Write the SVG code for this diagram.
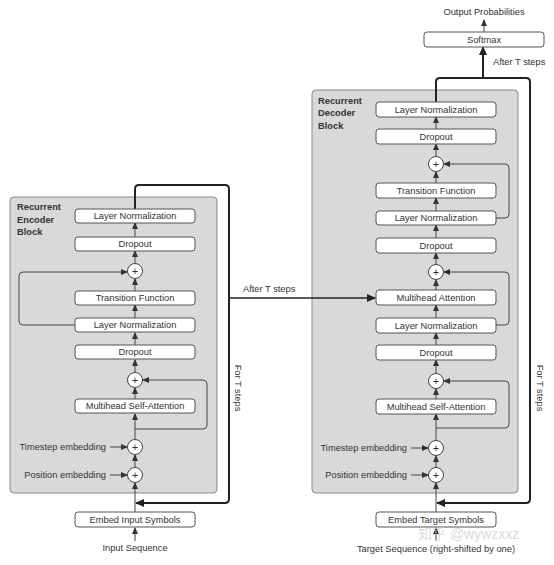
<svg xmlns="http://www.w3.org/2000/svg" width="554" height="565" viewBox="0 0 554 565">
<style>
text{font-family:"Liberation Sans",Arial,sans-serif;fill:#333;}
.lbl{font-size:9.3px;text-anchor:middle;dominant-baseline:central;}
.side{font-size:9.3px;}
.title{font-size:9.3px;font-weight:bold;fill:#333;}
.box{fill:#fff;stroke:#555;stroke-width:1;}
.blk{fill:#d9d9d9;stroke:#8a8a8a;stroke-width:1;}
.op{fill:#fff;stroke:#444;stroke-width:1;}
.plus{font-size:11px;text-anchor:middle;dominant-baseline:central;}
.c{fill:none;stroke:#444;stroke-width:1;marker-end:url(#a);}
.t{fill:none;stroke:#222;stroke-width:2;}
.ta{fill:none;stroke:#222;stroke-width:2;marker-end:url(#b);}
.m{fill:none;stroke:#222;stroke-width:1.5;marker-end:url(#b);}
</style>
<defs>
<marker id="a" markerUnits="userSpaceOnUse" markerWidth="7" markerHeight="6" refX="6" refY="3" orient="auto"><path d="M0,0 L7,3 L0,6 Z" fill="#333"/></marker>
<marker id="b" markerUnits="userSpaceOnUse" markerWidth="9" markerHeight="8" refX="8" refY="4" orient="auto"><path d="M0,0 L9,4 L0,8 Z" fill="#222"/></marker>
</defs>
<rect width="554" height="565" fill="#fff"/>

<!-- Encoder block -->
<g id="encoder-block">
<rect class="blk" x="10" y="197" width="207" height="296" rx="4"/>
<text class="title" x="17" y="210">Recurrent</text>
<text class="title" x="17" y="223">Encoder</text>
<text class="title" x="17" y="235">Block</text>
</g>
<!-- Decoder block -->
<g id="decoder-block">
<rect class="blk" x="312" y="90" width="206" height="403" rx="4"/>
<text class="title" x="318" y="103.5">Recurrent</text>
<text class="title" x="318" y="116">Decoder</text>
<text class="title" x="318" y="128.5">Block</text>
</g>

<g id="connectors">
<!-- encoder -->
<path class="c" d="M135,541 V528"/>
<path class="c" d="M135,512 V483"/>
<path class="c" d="M135,467 V455"/>
<path class="c" d="M135,439 V414"/>
<path class="c" d="M135,399 V388"/>
<path class="c" d="M135,372 V360"/>
<path class="c" d="M135,345 V333"/>
<path class="c" d="M135,318 V305"/>
<path class="c" d="M135,291 V279"/>
<path class="c" d="M135,263 V251"/>
<path class="c" d="M135,237 V223"/>
<path class="c" d="M75,325 H23 Q19,325 19,321 V276 Q19,272 23,272 H127"/>
<path class="c" d="M135,429 H203 Q207,429 207,425 V384 Q207,380 203,380 H143"/>
<path class="c" d="M110,447 H127"/>
<path class="c" d="M110,475 H127"/>
<path class="ta" d="M135,209 V189 Q135,185 139,185 H225 Q229,185 229,189 V499 Q229,503 225,503 H136"/>
<path class="m" d="M229,298 H375"/>
<!-- decoder -->
<path class="c" d="M436,541 V528"/>
<path class="c" d="M436,512 V483"/>
<path class="c" d="M436,467 V456"/>
<path class="c" d="M436,440 V414"/>
<path class="c" d="M436,399 V389"/>
<path class="c" d="M436,373 V360"/>
<path class="c" d="M436,345 V333"/>
<path class="c" d="M436,318 V305"/>
<path class="c" d="M436,290 V280"/>
<path class="c" d="M436,264 V253"/>
<path class="c" d="M436,238 V225"/>
<path class="c" d="M436,211 V198"/>
<path class="c" d="M436,183 V172"/>
<path class="c" d="M436,156 V144"/>
<path class="c" d="M436,129 V117"/>
<path class="c" d="M496,218 H505 Q509,218 509,214 V168 Q509,164 505,164 H444"/>
<path class="c" d="M496,325 H505 Q509,325 509,321 V276 Q509,272 505,272 H444"/>
<path class="c" d="M436,428 H505 Q509,428 509,424 V385 Q509,381 505,381 H444"/>
<path class="c" d="M411,448 H428"/>
<path class="c" d="M411,475 H428"/>
<path class="ta" d="M436,102 V82 Q436,78 440,78 H526 Q530,78 530,82 V499 Q530,503 526,503 H437"/>
<path class="ta" d="M483,78 V47"/>
<path class="c" d="M484,32 V20"/>
</g>

<!-- labels on connectors / free text -->
<text class="side" x="243" y="292">After T steps</text>
<text class="side" x="493" y="65">After T steps</text>
<text class="lbl" x="484" y="12">Output Probabilities</text>
<text class="side" transform="translate(238,388) rotate(90)" text-anchor="middle" dominant-baseline="central">For T steps</text>
<text class="side" transform="translate(540,388) rotate(90)" text-anchor="middle" dominant-baseline="central">For T steps</text>
<text class="lbl" x="135" y="548">Input Sequence</text>
<text class="lbl" x="436" y="549">Target Sequence (right-shifted by one)</text>
<text class="side" x="106" y="447" text-anchor="end" dominant-baseline="central">Timestep embedding</text>
<text class="side" x="106" y="475" text-anchor="end" dominant-baseline="central">Position embedding</text>
<text class="side" x="407" y="448" text-anchor="end" dominant-baseline="central">Timestep embedding</text>
<text class="side" x="407" y="475" text-anchor="end" dominant-baseline="central">Position embedding</text>

<!-- encoder nodes -->
<g id="enc-ln2"><rect class="box" x="75" y="209" width="120" height="14" rx="3"/><text class="lbl" x="135" y="216">Layer Normalization</text></g>
<g id="enc-dropout2"><rect class="box" x="75" y="237" width="120" height="14" rx="3"/><text class="lbl" x="135" y="244">Dropout</text></g>
<g id="enc-add2"><circle class="op" cx="135" cy="271" r="7.5"/><text class="plus" x="135" y="271">+</text></g>
<g id="enc-transition"><rect class="box" x="75" y="291" width="120" height="14" rx="3"/><text class="lbl" x="135" y="298">Transition Function</text></g>
<g id="enc-ln1"><rect class="box" x="75" y="318" width="120" height="14" rx="3"/><text class="lbl" x="135" y="325">Layer Normalization</text></g>
<g id="enc-dropout1"><rect class="box" x="75" y="345" width="120" height="14" rx="3"/><text class="lbl" x="135" y="352">Dropout</text></g>
<g id="enc-add1"><circle class="op" cx="135" cy="380" r="7.5"/><text class="plus" x="135" y="380">+</text></g>
<g id="enc-mhsa"><rect class="box" x="75" y="399" width="120" height="14" rx="3"/><text class="lbl" x="135" y="406">Multihead Self-Attention</text></g>
<g id="enc-timestep"><circle class="op" cx="135" cy="447" r="7.5"/><text class="plus" x="135" y="447">+</text></g>
<g id="enc-position"><circle class="op" cx="135" cy="475" r="7.5"/><text class="plus" x="135" y="475">+</text></g>
<g id="enc-embed"><rect class="box" x="75" y="512" width="120" height="15" rx="3"/><text class="lbl" x="135" y="519.5">Embed Input Symbols</text></g>

<!-- decoder nodes -->
<g id="softmax"><rect class="box" x="424" y="32" width="120" height="15" rx="3"/><text class="lbl" x="484" y="39.5">Softmax</text></g>
<g id="dec-ln3"><rect class="box" x="376" y="102" width="120" height="15" rx="3"/><text class="lbl" x="436" y="109.5">Layer Normalization</text></g>
<g id="dec-dropout3"><rect class="box" x="376" y="129" width="120" height="15" rx="3"/><text class="lbl" x="436" y="136.5">Dropout</text></g>
<g id="dec-add3"><circle class="op" cx="436" cy="164" r="7.5"/><text class="plus" x="436" y="164">+</text></g>
<g id="dec-transition"><rect class="box" x="376" y="183" width="120" height="15" rx="3"/><text class="lbl" x="436" y="190.5">Transition Function</text></g>
<g id="dec-ln2"><rect class="box" x="376" y="211" width="120" height="14" rx="3"/><text class="lbl" x="436" y="218">Layer Normalization</text></g>
<g id="dec-dropout2"><rect class="box" x="376" y="238" width="120" height="15" rx="3"/><text class="lbl" x="436" y="245.5">Dropout</text></g>
<g id="dec-add2"><circle class="op" cx="436" cy="272" r="7.5"/><text class="plus" x="436" y="272">+</text></g>
<g id="dec-mha"><rect class="box" x="376" y="290" width="120" height="15" rx="3"/><text class="lbl" x="436" y="297.5">Multihead Attention</text></g>
<g id="dec-ln1"><rect class="box" x="376" y="318" width="120" height="15" rx="3"/><text class="lbl" x="436" y="325.5">Layer Normalization</text></g>
<g id="dec-dropout1"><rect class="box" x="376" y="345" width="120" height="15" rx="3"/><text class="lbl" x="436" y="352.5">Dropout</text></g>
<g id="dec-add1"><circle class="op" cx="436" cy="381" r="7.5"/><text class="plus" x="436" y="381">+</text></g>
<g id="dec-mhsa"><rect class="box" x="376" y="399" width="120" height="15" rx="3"/><text class="lbl" x="436" y="406.5">Multihead Self-Attention</text></g>
<g id="dec-timestep"><circle class="op" cx="436" cy="448" r="7.5"/><text class="plus" x="436" y="448">+</text></g>
<g id="dec-position"><circle class="op" cx="436" cy="475" r="7.5"/><text class="plus" x="436" y="475">+</text></g>
<g id="dec-embed"><rect class="box" x="376" y="512" width="120" height="15" rx="3"/><text class="lbl" x="436" y="519.5">Embed Target Symbols</text></g>

<text x="418" y="539" style="font-family:'Liberation Sans','Noto Sans CJK SC',sans-serif;font-size:14px;fill:#d0d0d0;fill-opacity:0.8">知乎 @wywzxxz</text>
</svg>
